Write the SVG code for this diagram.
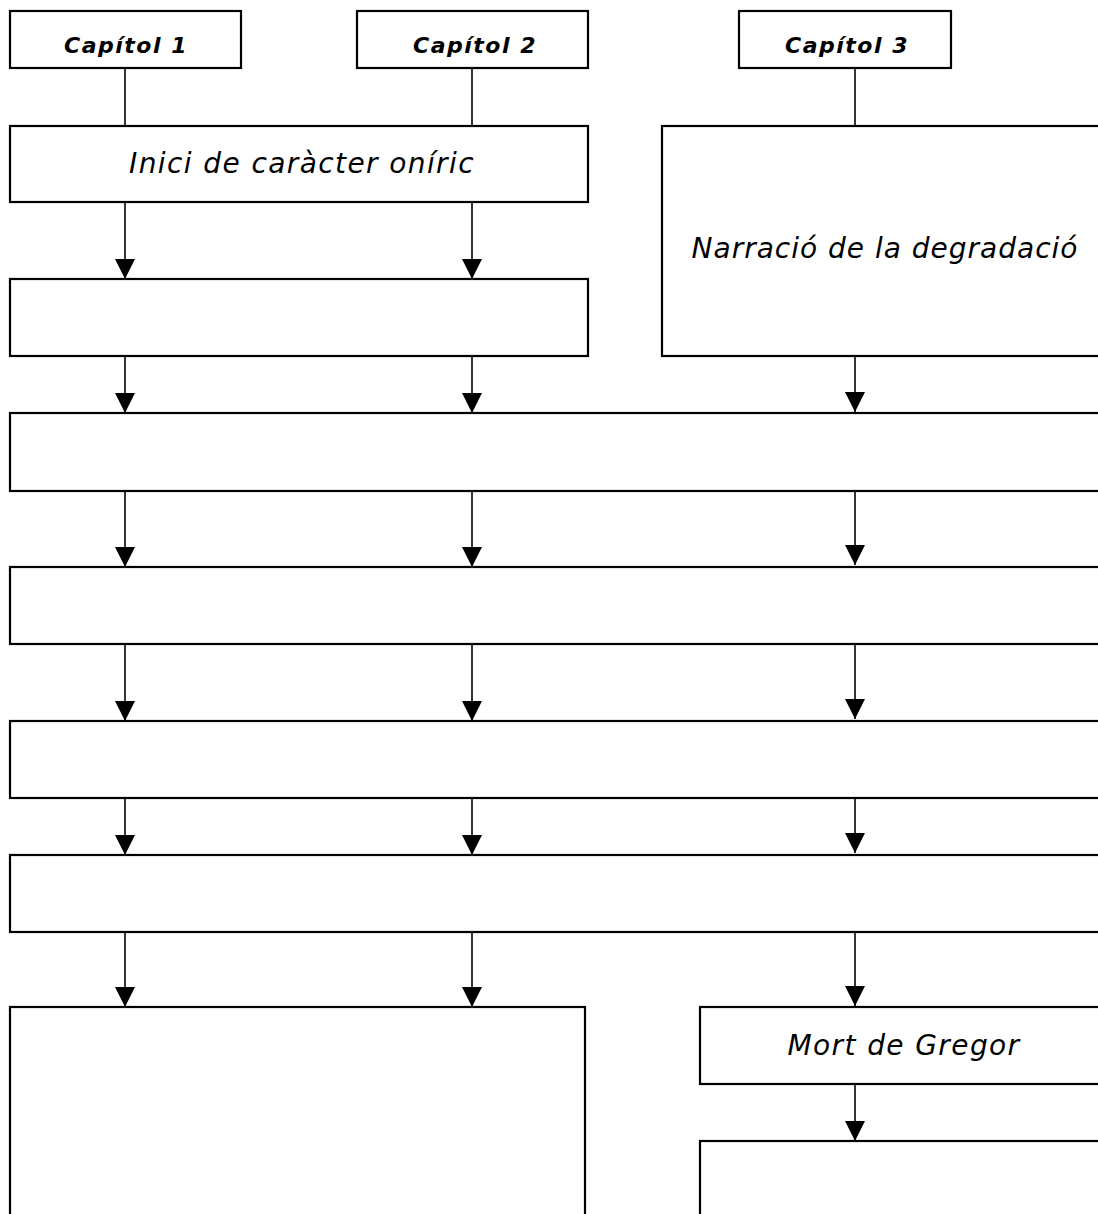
<svg xmlns="http://www.w3.org/2000/svg" width="1098" height="1214" viewBox="0 0 1098 1214">
<defs>
<marker id="arr" markerWidth="20" markerHeight="20" viewBox="0 0 20 20" refX="20" refY="10" orient="auto" markerUnits="userSpaceOnUse">
<path d="M0,0 L20,10 L0,20 Z" fill="#000"/>
</marker>
<style>
.box{fill:#fff;stroke:#000;stroke-width:2.2}
.ln{stroke:#000;stroke-width:1.6;fill:none}
.ar{stroke:#000;stroke-width:1.6;fill:none;marker-end:url(#arr)}
.t{font-family:"DejaVu Sans","Liberation Sans",sans-serif;font-style:italic;font-size:28px;letter-spacing:1.4px;fill:#000;text-anchor:middle}
.h{font-family:"DejaVu Sans","Liberation Sans",sans-serif;font-style:italic;font-weight:bold;font-size:22px;letter-spacing:1.5px;fill:#000;text-anchor:middle}
</style>
</defs>
<rect width="1098" height="1214" fill="#fff"/>
<g id="connectors">
<line class="ln" x1="125" y1="68" x2="125" y2="126"/>
<line class="ln" x1="472" y1="68" x2="472" y2="126"/>
<line class="ln" x1="855" y1="68" x2="855" y2="126"/>
<line class="ar" x1="125" y1="202" x2="125" y2="279"/>
<line class="ar" x1="472" y1="202" x2="472" y2="279"/>
<line class="ar" x1="125" y1="356" x2="125" y2="413"/>
<line class="ar" x1="472" y1="356" x2="472" y2="413"/>
<line class="ar" x1="855" y1="354" x2="855" y2="412"/>
<line class="ar" x1="125" y1="491" x2="125" y2="567"/>
<line class="ar" x1="472" y1="491" x2="472" y2="567"/>
<line class="ar" x1="855" y1="489" x2="855" y2="565"/>
<line class="ar" x1="125" y1="644" x2="125" y2="721"/>
<line class="ar" x1="472" y1="644" x2="472" y2="721"/>
<line class="ar" x1="855" y1="642" x2="855" y2="719"/>
<line class="ar" x1="125" y1="798" x2="125" y2="855"/>
<line class="ar" x1="472" y1="798" x2="472" y2="855"/>
<line class="ar" x1="855" y1="796" x2="855" y2="853"/>
<line class="ar" x1="125" y1="932" x2="125" y2="1007"/>
<line class="ar" x1="472" y1="932" x2="472" y2="1007"/>
<line class="ar" x1="855" y1="930" x2="855" y2="1006"/>
<line class="ar" x1="855" y1="1084" x2="855" y2="1141"/>
</g>
<g id="cap1"><rect class="box" x="10" y="11" width="231" height="57"/><text class="h" x="126" y="53">Capítol 1</text></g>
<g id="cap2"><rect class="box" x="357" y="11" width="231" height="57"/><text class="h" x="475" y="53">Capítol 2</text></g>
<g id="cap3"><rect class="box" x="739" y="11" width="212" height="57"/><text class="h" x="847" y="53">Capítol 3</text></g>
<g id="inici"><rect class="box" x="10" y="126" width="578" height="76"/><text class="t" x="302" y="173">Inici de caràcter oníric</text></g>
<g id="box2"><rect class="box" x="10" y="279" width="578" height="77"/></g>
<g id="narracio"><rect class="box" x="662" y="126" width="450" height="230"/><text class="t" x="885" y="258" style="letter-spacing:1px">Narració de la degradació</text></g>
<g id="boxA"><rect class="box" x="10" y="413" width="1100" height="78"/></g>
<g id="boxB"><rect class="box" x="10" y="567" width="1100" height="77"/></g>
<g id="boxC"><rect class="box" x="10" y="721" width="1100" height="77"/></g>
<g id="boxD"><rect class="box" x="10" y="855" width="1100" height="77"/></g>
<g id="boxE"><rect class="box" x="10" y="1007" width="575" height="220"/></g>
<g id="mort"><rect class="box" x="700" y="1007" width="410" height="77"/><text class="t" x="904" y="1055">Mort de Gregor</text></g>
<g id="boxF"><rect class="box" x="700" y="1141" width="410" height="90"/></g>
</svg>
